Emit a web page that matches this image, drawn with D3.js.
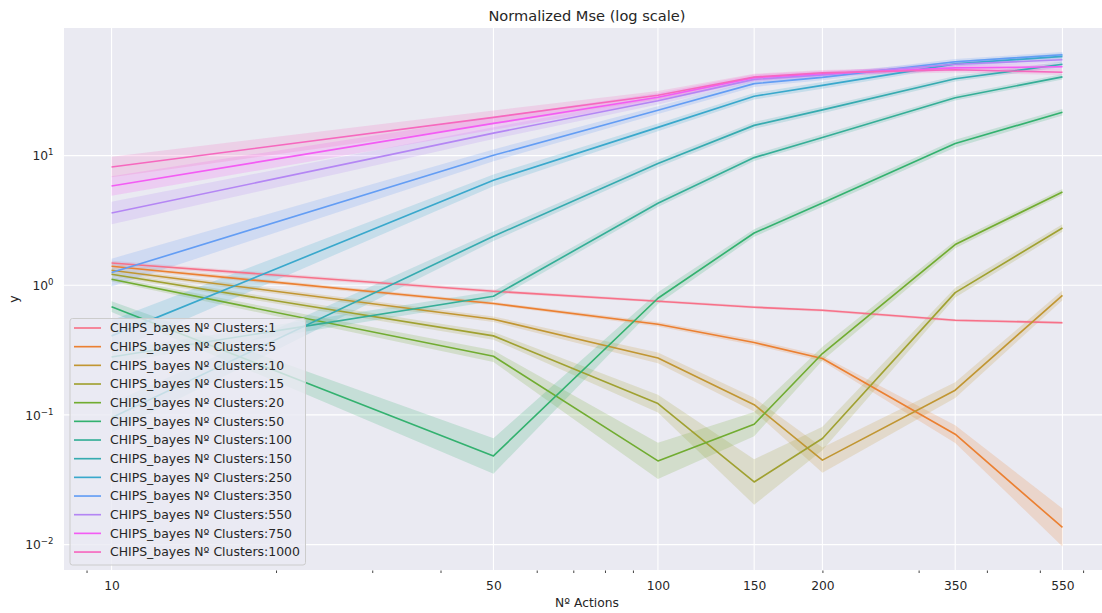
<!DOCTYPE html>
<html>
<head>
<meta charset="utf-8">
<script src="https://cdn.jsdelivr.net/npm/d3@7"></script>
<style>
  html, body { margin: 0; padding: 0; background: #ffffff; }
  svg { display: block; font-family: "DejaVu Sans", sans-serif; }
</style>
</head>
<body>
<svg id="chart" width="1102" height="613"></svg>
<script>
// ---------------- data ----------------
const actions = [10, 50, 100, 150, 200, 350, 550];
const clusters = [1, 5, 10, 15, 20, 50, 100, 150, 250, 350, 550, 750, 1000];
const xTickValues = [10, 50, 100, 150, 200, 350, 550];
const xMinorTicks = [9, 20, 30, 40, 60, 70, 80, 90, 200, 300, 400, 500, 600];
const yTickValues = [0.01, 0.1, 1, 10];
const yTickExponents = ["−2", "−1", "0", "1"];

// mean normalized MSE per number of actions
const mse_c1    = [1.486, 0.899, 0.753, 0.677, 0.641, 0.537, 0.514];
const mse_c5    = [1.401, 0.723, 0.500, 0.362, 0.272, 0.0710, 0.01355];
const mse_c10   = [1.305, 0.547, 0.275, 0.120, 0.0448, 0.155, 0.837];
const mse_c15   = [1.216, 0.407, 0.1224, 0.0304, 0.0658, 0.878, 2.766];
const mse_c20   = [1.112, 0.2836, 0.0442, 0.0848, 0.2975, 2.06, 5.24];
const mse_c50   = [0.683, 0.0483, 0.794, 2.53, 4.31, 12.38, 21.6];
const mse_c100  = [0.28, 0.823, 4.29, 9.65, 13.8, 27.9, 40.5];
const mse_c150  = [0.095, 2.387, 8.68, 17.1, 22.5, 39.1, 50.6];
const mse_c250  = [0.407, 6.45, 16.5, 28.7, 34.8, 51.0, 58.3];
const mse_c350  = [1.253, 10.05, 22.4, 35.9, 40.1, 52.9, 59.9];
const mse_c550  = [3.61, 14.9, 26.5, 38.7, 41.9, 50.6, 54.8];
const mse_c750  = [5.83, 17.7, 28.2, 39.9, 42.8, 47.5, 48.4];
const mse_c1000 = [8.17, 19.7, 29.2, 40.4, 43.5, 45.9, 43.9];

// confidence band: multiplicative half-spread (band = mean / f .. mean * f)
const ci_c1    = [1.04, 1.03, 1.025, 1.025, 1.025, 1.025, 1.025];
const ci_c5    = [1.04, 1.03, 1.04, 1.05, 1.05, 1.17, 1.4];
const ci_c10   = [1.04, 1.05, 1.10, 1.13, 1.25, 1.15, 1.09];
const ci_c15   = [1.04, 1.07, 1.17, 1.5, 1.23, 1.09, 1.07];
const ci_c20   = [1.04, 1.11, 1.38, 1.24, 1.13, 1.07, 1.055];
const ci_c50   = [1.10, 1.37, 1.11, 1.07, 1.07, 1.07, 1.06];
const ci_c100  = [1.12, 1.09, 1.07, 1.06, 1.06, 1.05, 1.05];
const ci_c150  = [1.30, 1.09, 1.07, 1.06, 1.06, 1.05, 1.05];
const ci_c250  = [1.32, 1.11, 1.07, 1.06, 1.06, 1.05, 1.05];
const ci_c350  = [1.28, 1.11, 1.07, 1.06, 1.05, 1.05, 1.05];
const ci_c550  = [1.22, 1.11, 1.07, 1.05, 1.05, 1.05, 1.05];
const ci_c750  = [1.19, 1.12, 1.08, 1.06, 1.05, 1.05, 1.05];
const ci_c1000 = [1.20, 1.13, 1.08, 1.06, 1.05, 1.05, 1.05];

const meanSeries = [mse_c1, mse_c5, mse_c10, mse_c15, mse_c20, mse_c50, mse_c100,
                    mse_c150, mse_c250, mse_c350, mse_c550, mse_c750, mse_c1000];
const ciSeries = [ci_c1, ci_c5, ci_c10, ci_c15, ci_c20, ci_c50, ci_c100,
                  ci_c150, ci_c250, ci_c350, ci_c550, ci_c750, ci_c1000];
const seriesNames = clusters.map(c => "CHIPS_bayes Nº Clusters:" + c);

// ---------------- seaborn husl palette ----------------
function huslToRgb(H, S, L) {
  const M = [[3.2406, -1.5372, -0.4986], [-0.9689, 1.8758, 0.0415], [0.0557, -0.2040, 1.0570]];
  const refU = 0.19784, refV = 0.46834, kappa = 903.3, eps = 0.008856;
  function maxChroma(L, H) {
    const hr = H / 360 * 2 * Math.PI, sinH = Math.sin(hr), cosH = Math.cos(hr);
    const sub1 = Math.pow(L + 16, 3) / 1560896;
    const sub2 = sub1 > eps ? sub1 : L / kappa;
    let res = Infinity;
    for (const [m1, m2, m3] of M) {
      const tp = (0.99915 * m1 + 1.05122 * m2 + 1.14460 * m3) * sub2;
      const rb = 0.86330 * m3 - 0.17266 * m2;
      const lb = 0.12949 * m3 - 0.38848 * m1;
      const bt = (rb * sinH + lb * cosH) * sub2;
      for (const t of [0, 1]) {
        const C = L * (tp - 1.05122 * t) / (bt + 0.17266 * sinH * t);
        if (C > 0 && C < res) res = C;
      }
    }
    return res;
  }
  const C = maxChroma(L, H) / 100 * S;
  const hr = H / 360 * 2 * Math.PI;
  const U = Math.cos(hr) * C, V = Math.sin(hr) * C;
  const t = (L + 16) / 116;
  const varY = Math.pow(t, 3) > eps ? Math.pow(t, 3) : (116 * t - 16) / kappa;
  const varU = U / (13 * L) + refU, varV = V / (13 * L) + refV;
  const Y = varY;
  const X = 0 - (9 * Y * varU) / ((varU - 4) * varV - varU * varV);
  const Z = (9 * Y - 15 * varV * Y - varV * X) / (3 * varV);
  const lin = M.map(r => r[0] * X + r[1] * Y + r[2] * Z);
  return lin.map(c => {
    const v = c <= 0.0031308 ? 12.92 * c : 1.055 * Math.pow(c, 1 / 2.4) - 0.055;
    return Math.max(0, Math.min(1, v));
  });
}
function huslPalette(n) {
  const out = [];
  for (let i = 0; i < n; i++) {
    const h = ((i / n + 0.01) % 1) * 359;
    const rgb = huslToRgb(h, 0.9 * 99, 0.65 * 99);
    out.push(d3.rgb(rgb[0] * 255, rgb[1] * 255, rgb[2] * 255).formatHex());
  }
  return out;
}

(function draw() {
  const colors = huslPalette(clusters.length);

  const svg = d3.select("#chart");
  const pL = 64, pR = 1110, pT = 28, pB = 570;
  const textColor = "#262626";

  const lx0 = Math.log10(d3.min(actions)), lx1 = Math.log10(d3.max(actions));
  const mx = (lx1 - lx0) * 0.05;
  const x = d3.scaleLog().domain([Math.pow(10, lx0 - mx), Math.pow(10, lx1 + mx)]).range([pL, pR]);
  const y = d3.scaleLog().domain([Math.pow(10, -2.196), Math.pow(10, 1.984)]).range([pB, pT]);

  svg.append("defs").append("clipPath").attr("id", "plotclip")
    .append("rect").attr("x", pL).attr("y", pT).attr("width", pR - pL).attr("height", pB - pT);

  svg.append("rect").attr("x", pL).attr("y", pT).attr("width", pR - pL).attr("height", pB - pT)
    .attr("fill", "#EAEAF2");

  const grid = svg.append("g").attr("clip-path", "url(#plotclip)");
  grid.selectAll("line.xg").data(xTickValues).join("line").attr("class", "xg")
    .attr("x1", d => x(d)).attr("x2", d => x(d)).attr("y1", pT).attr("y2", pB)
    .attr("stroke", "#ffffff").attr("stroke-width", 1.1);
  grid.selectAll("line.yg").data(yTickValues).join("line").attr("class", "yg")
    .attr("x1", pL).attr("x2", pR).attr("y1", d => y(d)).attr("y2", d => y(d))
    .attr("stroke", "#ffffff").attr("stroke-width", 1.1);

  const series = seriesNames.map((name, i) => ({
    name, color: colors[i],
    points: actions.map((a, j) => ({
      x: a, v: meanSeries[i][j],
      lo: meanSeries[i][j] / ciSeries[i][j], hi: meanSeries[i][j] * ciSeries[i][j]
    }))
  }));

  const plot = svg.append("g").attr("clip-path", "url(#plotclip)");
  const area = d3.area().x(d => x(d.x)).y0(d => y(d.lo)).y1(d => y(d.hi));
  const line = d3.line().x(d => x(d.x)).y(d => y(d.v));

  plot.selectAll("path.band").data(series).join("path")
    .attr("class", "band")
    .attr("d", d => area(d.points))
    .attr("fill", d => d.color).attr("fill-opacity", 0.2).attr("stroke", "none");

  plot.selectAll("path.line").data(series).join("path")
    .attr("class", "line")
    .attr("d", d => line(d.points))
    .attr("fill", "none").attr("stroke", d => d.color).attr("stroke-width", 1.65)
    .attr("stroke-linejoin", "round").attr("stroke-linecap", "butt");

  const xAxis = d3.axisBottom(x).tickValues(xTickValues).tickFormat(d3.format("d")).tickSize(0).tickPadding(0);
  const gx = svg.append("g").attr("transform", `translate(0,${pB})`).call(xAxis);
  gx.select(".domain").remove();
  gx.selectAll("text").attr("fill", textColor).attr("font-size", "12.3px")
    .attr("font-family", "DejaVu Sans, sans-serif").attr("dy", null).attr("y", 19.5);

  const xMinor = d3.axisBottom(x).tickValues(xMinorTicks).tickFormat("").tickSize(2.5);
  const gxm = svg.append("g").attr("transform", `translate(0,${pB + 0.5})`).call(xMinor);
  gxm.select(".domain").remove();
  gxm.selectAll("line").attr("stroke", "#444").attr("stroke-width", 1);

  const yAxis = d3.axisLeft(y).tickValues(yTickValues).tickFormat(() => "").tickSize(0).tickPadding(0);
  const gy = svg.append("g").attr("transform", `translate(${pL},0)`).call(yAxis);
  gy.select(".domain").remove();
  gy.selectAll(".tick text").each(function(d) {
    const t = d3.select(this);
    t.text(null).attr("x", -10.5).attr("dy", null).attr("y", 4.4)
      .attr("text-anchor", "end").attr("fill", textColor)
      .attr("font-family", "DejaVu Sans, sans-serif").attr("font-size", "12.3px");
    t.append("tspan").text("10");
    t.append("tspan").attr("dy", -5.2).attr("font-size", "8.6px").text(yTickExponents[yTickValues.indexOf(d)]);
  });

  svg.append("text").attr("x", (pL + pR) / 2).attr("y", 20.5).attr("text-anchor", "middle")
    .attr("fill", textColor).attr("font-size", "14.6px").text("Normalized Mse (log scale)");
  svg.append("text").attr("x", (pL + pR) / 2).attr("y", 606.5).attr("text-anchor", "middle")
    .attr("fill", textColor).attr("font-size", "12.3px").text("Nº Actions");
  svg.append("text").attr("transform", `translate(18,${(pT + pB) / 2}) rotate(-90)`)
    .attr("text-anchor", "middle").attr("fill", textColor).attr("font-size", "12.3px").text("y");

  const lgX = 70, lgY = 318.5, lgW = 235.5, lgH = 246.5, rowH = 18.67;
  const lg = svg.append("g");
  lg.append("rect").attr("x", lgX).attr("y", lgY).attr("width", lgW).attr("height", lgH)
    .attr("rx", 2.5).attr("ry", 2.5)
    .attr("fill", "#EAEAF2").attr("fill-opacity", 0.8)
    .attr("stroke", "#cccccc").attr("stroke-width", 1);
  const rows = lg.selectAll("g.row").data(series).join("g").attr("class", "row")
    .attr("transform", (d, i) => `translate(0,${328 + i * rowH})`);
  rows.append("line").attr("x1", 74).attr("x2", 101).attr("y1", 0).attr("y2", 0)
    .attr("stroke", d => d.color).attr("stroke-width", 1.65);
  rows.append("text").attr("x", 110).attr("y", 4.4).attr("fill", textColor)
    .attr("font-size", "12.45px").text(d => d.name);
})();
</script>
</body>
</html>
